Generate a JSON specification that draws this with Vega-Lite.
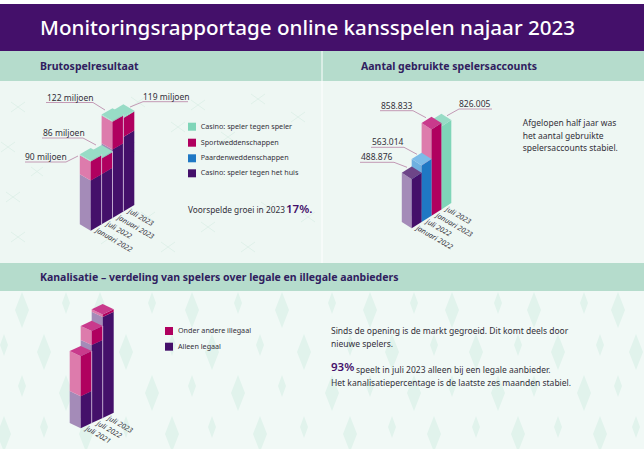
{
"$schema":"https://vega.github.io/schema/vega-lite/v6.json",
"width":644,"height":449,"padding":0,"autosize":{"type":"fit","contains":"padding"},"background":"#ffffff",
"config":{"view":{"stroke":null},"axis":{"disable":true},"legend":{"disable":true},
"text":{"font":"Noto Sans","align":"left","baseline":"middle","color":"#33303a","fontSize":8},
"rule":{"color":"#bd8fae","strokeWidth":0.9}},
"params":[{"name":"geom","value":{
"bruto":{"fx":90.7,"fy":230.7,"w":10.9,"h":6.4,"k":0.843,"b":7},
"accounts":{"fx":411.7,"fy":228.3,"w":9.9,"h":6.3,"k":0.0001005,"b":0},
"kanaal":{"fx":80.7,"fy":428.3,"w":11,"h":5.2,"k":1,"b":0}}}],
"data":{"values":[{}]},
"datasets":{"bars":[
{"chart":"bruto","i":3,"period":"juli 2023","o":0,"series":"Casino: speler tegen het huis","value":95.5},
{"chart":"bruto","i":3,"period":"juli 2023","o":1,"series":"Sportweddenschappen","value":22.5},
{"chart":"bruto","i":3,"period":"juli 2023","o":2,"series":"Casino: speler tegen speler","value":1},
{"chart":"bruto","i":2,"period":"januari 2023","o":0,"series":"Casino: speler tegen het huis","value":88},
{"chart":"bruto","i":2,"period":"januari 2023","o":1,"series":"Sportweddenschappen","value":33},
{"chart":"bruto","i":2,"period":"januari 2023","o":2,"series":"Casino: speler tegen speler","value":1},
{"chart":"bruto","i":1,"period":"juli 2022","o":0,"series":"Casino: speler tegen het huis","value":66.4},
{"chart":"bruto","i":1,"period":"juli 2022","o":1,"series":"Sportweddenschappen","value":18.6},
{"chart":"bruto","i":1,"period":"juli 2022","o":2,"series":"Casino: speler tegen speler","value":1},
{"chart":"bruto","i":0,"period":"januari 2022","o":0,"series":"Casino: speler tegen het huis","value":66.5},
{"chart":"bruto","i":0,"period":"januari 2022","o":1,"series":"Sportweddenschappen","value":22.5},
{"chart":"bruto","i":0,"period":"januari 2022","o":2,"series":"Casino: speler tegen speler","value":1},
{"chart":"accounts","i":3,"period":"juli 2023","o":0,"series":"Casino: speler tegen speler","value":826005},
{"chart":"accounts","i":2,"period":"januari 2023","o":0,"series":"Sportweddenschappen","value":858833},
{"chart":"accounts","i":1,"period":"juli 2022","o":0,"series":"Paardenweddenschappen","value":563014},
{"chart":"accounts","i":0,"period":"januari 2022","o":0,"series":"Casino: speler tegen het huis","value":488876},
{"chart":"kanaal","i":2,"period":"juli 2023","o":0,"series":"Alleen legaal","value":101},
{"chart":"kanaal","i":2,"period":"juli 2023","o":1,"series":"Onder andere illegaal","value":2.5},
{"chart":"kanaal","i":1,"period":"juli 2022","o":0,"series":"Alleen legaal","value":78},
{"chart":"kanaal","i":1,"period":"juli 2022","o":1,"series":"Onder andere illegaal","value":14},
{"chart":"kanaal","i":0,"period":"juli 2021","o":0,"series":"Alleen legaal","value":32},
{"chart":"kanaal","i":0,"period":"juli 2021","o":1,"series":"Onder andere illegaal","value":40}
]},
"layer":[
{"mark":{"type":"rect","color":"#44106a"},"encoding":{"x":{"datum":0,"scale":{"domain":[0,644],"nice":false,"zero":false}},"x2":{"datum":644},"y":{"datum":4,"scale":{"domain":[449,0],"nice":false,"zero":false}},"y2":{"datum":51}}},
{"mark":{"type":"rect","color":"#eef7f3"},"encoding":{"x":{"datum":0},"x2":{"datum":644},"y":{"datum":80},"y2":{"datum":263}}},
{"mark":{"type":"rect","color":"#f1f9f6"},"encoding":{"x":{"datum":0},"x2":{"datum":644},"y":{"datum":291},"y2":{"datum":449}}},
{"mark":{"type":"rect","color":"#b5dccc"},"encoding":{"x":{"datum":0},"x2":{"datum":644},"y":{"datum":51},"y2":{"datum":81}}},
{"mark":{"type":"rect","color":"#b5dccc"},"encoding":{"x":{"datum":0},"x2":{"datum":644},"y":{"datum":263},"y2":{"datum":291}}},
{"mark":{"type":"rule","color":"#ffffff","strokeWidth":1},"encoding":{"x":{"datum":322},"y":{"datum":51},"y2":{"datum":263}}},
{"mark":{"type":"point","clip":true,"filled":false,"size":4,"stroke":"#deefe8","strokeWidth":0.9,"opacity":1,"shape":"M-150-70l14 10m0-10l-14 10M-110-78l12 9m0-9l-12 9M-30-75l14 10m0-10l-14 10M30-72l14 10m0-10l-14 10M90-78l14 10m0-10l-14 10M130-60l14 10m0-10l-14 10M-160-30l14 10m0-10l-14 10M-130-5l12 9m0-9l-12 9M-40-30l14 10m0-10l-14 10M10-50l14 10m0-10l-14 10M60-40l14 10m0-10l-14 10M-155 20l14 10m0-10l-14 10M-80 30l12 9m0-9l-12 9M-20 40l14 10m0-10l-14 10M40 50l14 10m0-10l-14 10M100 30l14 10m0-10l-14 10M140 40l14 10m0-10l-14 10M-150 60l14 10m0-10l-14 10M-60 62l14 10m0-10l-14 10M0 70l14 10m0-10l-14 10M80 70l14 10m0-10l-14 10"},"encoding":{"x":{"datum":161},"y":{"datum":172}}},
{"mark":{"type":"point","clip":true,"filled":true,"size":4,"fill":"#e1f3ec","opacity":1,"shape":"M-300-78l7 18-7 18-7-18zM-256-78l4 11-4 11-4-11zM-222-78l7 18-7 18-7-18zM-170-78l4 11-4 11-4-11zM-130-78l7 18-7 18-7-18zM-84-78l4 11-4 11-4-11zM-40-78l7 18-7 18-7-18zM10-78l4 11-4 11-4-11zM48-78l7 18-7 18-7-18zM92-78l4 11-4 11-4-11zM130-78l7 18-7 18-7-18zM176-78l4 11-4 11-4-11zM212-78l7 18-7 18-7-18zM262-78l4 11-4 11-4-11zM296-78l7 18-7 18-7-18zM-318-36l4 11-4 11-4-11zM-278-36l7 18-7 18-7-18zM-236-36l4 11-4 11-4-11zM-196-36l7 18-7 18-7-18zM-150-36l4 11-4 11-4-11zM-110-36l7 18-7 18-7-18zM-62-36l4 11-4 11-4-11zM-18-36l7 18-7 18-7-18zM28-36l4 11-4 11-4-11zM70-36l7 18-7 18-7-18zM112-36l4 11-4 11-4-11zM154-36l7 18-7 18-7-18zM196-36l4 11-4 11-4-11zM236-36l7 18-7 18-7-18zM278-36l4 11-4 11-4-11zM314-36l7 18-7 18-7-18zM-300 5l4 11-4 11-4-11zM-256 5l7 18-7 18-7-18zM-222 5l4 11-4 11-4-11zM-170 5l7 18-7 18-7-18zM-130 5l4 11-4 11-4-11zM-84 5l7 18-7 18-7-18zM-40 5l4 11-4 11-4-11zM10 5l7 18-7 18-7-18zM48 5l4 11-4 11-4-11zM92 5l7 18-7 18-7-18zM130 5l4 11-4 11-4-11zM176 5l7 18-7 18-7-18zM212 5l4 11-4 11-4-11zM262 5l7 18-7 18-7-18zM296 5l4 11-4 11-4-11zM-318 46l7 18-7 18-7-18zM-278 46l4 11-4 11-4-11zM-236 46l7 18-7 18-7-18zM-196 46l4 11-4 11-4-11zM-150 46l7 18-7 18-7-18zM-110 46l4 11-4 11-4-11zM-62 46l7 18-7 18-7-18zM-18 46l4 11-4 11-4-11zM28 46l7 18-7 18-7-18zM70 46l4 11-4 11-4-11zM112 46l7 18-7 18-7-18zM154 46l4 11-4 11-4-11zM196 46l7 18-7 18-7-18zM236 46l4 11-4 11-4-11zM278 46l7 18-7 18-7-18zM314 46l4 11-4 11-4-11z"},"encoding":{"x":{"datum":322},"y":{"datum":370}}},
{"data":{"name":"bars"},
"transform":[
{"stack":"value","groupby":["chart","i"],"sort":[{"field":"o","order":"ascending"}],"as":["v0","v1"]},
{"joinaggregate":[{"op":"max","field":"v1","as":"total"}],"groupby":["chart","i"]},
{"calculate":"datum.v1===datum.total?['L0','L1','R0','R1','T0','T1','T2']:['L0','L1','R0','R1']","as":"corner"},
{"flatten":["corner"]},
{"calculate":"substring(datum.corner,0,1)","as":"face"},
{"calculate":"datum.chart+'_'+datum.i+'_'+datum.o+'_'+datum.face","as":"fid"},
{"calculate":"datum.series+'|'+datum.face","as":"key"},
{"calculate":"(datum.corner==='L1'||datum.corner==='R0'||datum.corner==='T1')?0:((datum.corner==='L0'||datum.corner==='T0')?-1:1)","as":"u"},
{"calculate":"geom[datum.chart].fx+(datum.i+datum.u)*geom[datum.chart].w","as":"px"},
{"calculate":"geom[datum.chart].fy-(datum.i+abs(datum.u))*geom[datum.chart].h","as":"gy"},
{"calculate":"(max(datum.v0,geom[datum.chart].b)-geom[datum.chart].b)*geom[datum.chart].k","as":"l0"},
{"calculate":"(max(datum.v1,geom[datum.chart].b)-geom[datum.chart].b)*geom[datum.chart].k","as":"l1"},
{"calculate":"datum.face==='T'?datum.gy-datum.l1-(datum.corner==='T1'?2*geom[datum.chart].h:0):datum.gy-datum.l1","as":"py"},
{"calculate":"datum.face==='T'?datum.gy-datum.l1:datum.gy-datum.l0","as":"py2"}
],
"mark":{"type":"area","orient":"vertical","interpolate":"linear","opacity":1},
"encoding":{
"x":{"field":"px","type":"quantitative"},
"y":{"field":"py","type":"quantitative","stack":null},
"y2":{"field":"py2"},
"detail":{"field":"fid"},
"color":{"field":"key","type":"nominal","scale":{
"domain":["Casino: speler tegen het huis|R","Casino: speler tegen het huis|L","Casino: speler tegen het huis|T","Alleen legaal|R","Alleen legaal|L","Alleen legaal|T","Sportweddenschappen|R","Sportweddenschappen|L","Sportweddenschappen|T","Onder andere illegaal|R","Onder andere illegaal|L","Onder andere illegaal|T","Paardenweddenschappen|R","Paardenweddenschappen|L","Paardenweddenschappen|T","Casino: speler tegen speler|R","Casino: speler tegen speler|L","Casino: speler tegen speler|T"],
"range":["#44106a","#a48bb8","#6d4588","#44106a","#a48bb8","#6d4588","#b0005f","#dd7bac","#c93a8c","#b0005f","#dd7bac","#c93a8c","#1f78c4","#6fb0e0","#7cbbe8","#7fd5b8","#a5e2cf","#98dcc6"]}}
}},
{"data":{"name":"bars"},
"transform":[
{"aggregate":[{"op":"sum","field":"value","as":"total"}],"groupby":["chart","i"]},
{"filter":"datum.chart!=='accounts'&&datum.i<(datum.chart==='bruto'?3:2)"},
{"calculate":"geom[datum.chart].fx+(datum.i+1)*geom[datum.chart].w","as":"sx"},
{"calculate":"geom[datum.chart].fy-(datum.i+1)*geom[datum.chart].h","as":"sy"},
{"calculate":"datum.sy-(datum.total-geom[datum.chart].b)*geom[datum.chart].k","as":"st"}
],
"mark":{"type":"rule","color":"#e6d9ee","strokeWidth":0.7},
"encoding":{"x":{"field":"sx","type":"quantitative"},"y":{"field":"sy","type":"quantitative"},"y2":{"field":"st"}}},
{"data":{"name":"bars"},
"transform":[
{"aggregate":[{"op":"count","as":"n"}],"groupby":["chart","i","period"]},
{"calculate":"geom[datum.chart].fx+(datum.i+0.5)*geom[datum.chart].w","as":"lx"},
{"calculate":"geom[datum.chart].fy-(datum.i+0.5)*geom[datum.chart].h+2.5","as":"ly"}
],
"mark":{"type":"text","angle":30,"fontSize":7.2,"fontStyle":"italic"},
"encoding":{"x":{"field":"lx","type":"quantitative"},"y":{"field":"ly","type":"quantitative"},"text":{"field":"period"}}},
{"mark":{"type":"text","text":"Monitoringsrapportage online kansspelen najaar 2023","color":"#ffffff","fontSize":20.6,"fontWeight":500},"encoding":{"x":{"datum":40},"y":{"datum":29}}},
{"mark":{"type":"text","text":"Brutospelresultaat","color":"#30205f","fontSize":10.5,"fontWeight":700},"encoding":{"x":{"datum":40},"y":{"datum":67}}},
{"mark":{"type":"text","text":"Aantal gebruikte spelersaccounts","color":"#30205f","fontSize":10.5,"fontWeight":700},"encoding":{"x":{"datum":361},"y":{"datum":67}}},
{"mark":{"type":"text","text":"Kanalisatie – verdeling van spelers over legale en illegale aanbieders","color":"#30205f","fontSize":10.5,"fontWeight":700},"encoding":{"x":{"datum":40},"y":{"datum":278}}},
{"mark":{"type":"rule"},"encoding":{"x":{"datum":46},"x2":{"datum":93},"y":{"datum":102.5},"y2":{"datum":102.5}}},
{"mark":{"type":"rule"},"encoding":{"x":{"datum":93},"x2":{"datum":105},"y":{"datum":102.5},"y2":{"datum":110}}},
{"mark":{"type":"text","text":"122 miljoen","fontSize":8.5},"encoding":{"x":{"datum":47},"y":{"datum":97.5}}},
{"mark":{"type":"rule"},"encoding":{"x":{"datum":143},"x2":{"datum":188},"y":{"datum":101.7},"y2":{"datum":101.7}}},
{"mark":{"type":"rule"},"encoding":{"x":{"datum":143},"x2":{"datum":130},"y":{"datum":101.7},"y2":{"datum":107}}},
{"mark":{"type":"text","text":"119 miljoen","fontSize":8.5},"encoding":{"x":{"datum":143},"y":{"datum":96.5}}},
{"mark":{"type":"rule"},"encoding":{"x":{"datum":42},"x2":{"datum":83},"y":{"datum":138},"y2":{"datum":138}}},
{"mark":{"type":"rule"},"encoding":{"x":{"datum":83},"x2":{"datum":96},"y":{"datum":138},"y2":{"datum":145}}},
{"mark":{"type":"text","text":"86 miljoen","fontSize":8.5},"encoding":{"x":{"datum":43},"y":{"datum":133}}},
{"mark":{"type":"rule"},"encoding":{"x":{"datum":25},"x2":{"datum":66},"y":{"datum":162},"y2":{"datum":162}}},
{"mark":{"type":"rule"},"encoding":{"x":{"datum":66},"x2":{"datum":78},"y":{"datum":162},"y2":{"datum":156}}},
{"mark":{"type":"text","text":"90 miljoen","fontSize":8.5},"encoding":{"x":{"datum":25},"y":{"datum":156.5}}},
{"mark":{"type":"rule"},"encoding":{"x":{"datum":380},"x2":{"datum":413},"y":{"datum":110.7},"y2":{"datum":110.7}}},
{"mark":{"type":"rule"},"encoding":{"x":{"datum":413},"x2":{"datum":426},"y":{"datum":110.7},"y2":{"datum":117.7}}},
{"mark":{"type":"text","text":"858.833","fontSize":8.5},"encoding":{"x":{"datum":381},"y":{"datum":105.5}}},
{"mark":{"type":"rule"},"encoding":{"x":{"datum":459},"x2":{"datum":492},"y":{"datum":109},"y2":{"datum":109}}},
{"mark":{"type":"rule"},"encoding":{"x":{"datum":459},"x2":{"datum":447},"y":{"datum":109},"y2":{"datum":115.7}}},
{"mark":{"type":"text","text":"826.005","fontSize":8.5},"encoding":{"x":{"datum":459},"y":{"datum":103.5}}},
{"mark":{"type":"rule"},"encoding":{"x":{"datum":371},"x2":{"datum":404},"y":{"datum":147.3},"y2":{"datum":147.3}}},
{"mark":{"type":"rule"},"encoding":{"x":{"datum":404},"x2":{"datum":417},"y":{"datum":147.3},"y2":{"datum":154.3}}},
{"mark":{"type":"text","text":"563.014","fontSize":8.5},"encoding":{"x":{"datum":372},"y":{"datum":142}}},
{"mark":{"type":"rule"},"encoding":{"x":{"datum":360},"x2":{"datum":394},"y":{"datum":162.3},"y2":{"datum":162.3}}},
{"mark":{"type":"rule"},"encoding":{"x":{"datum":394},"x2":{"datum":407},"y":{"datum":162.3},"y2":{"datum":167.3}}},
{"mark":{"type":"text","text":"488.876","fontSize":8.5},"encoding":{"x":{"datum":361},"y":{"datum":157}}},
{"mark":{"type":"point","shape":"square","filled":true,"size":64,"opacity":1,"color":"#7fd5b8"},"encoding":{"x":{"datum":192},"y":{"datum":126.7}}},
{"mark":{"type":"point","shape":"square","filled":true,"size":64,"opacity":1,"color":"#b0005f"},"encoding":{"x":{"datum":192},"y":{"datum":142.7}}},
{"mark":{"type":"point","shape":"square","filled":true,"size":64,"opacity":1,"color":"#1f78c4"},"encoding":{"x":{"datum":192},"y":{"datum":158.3}}},
{"mark":{"type":"point","shape":"square","filled":true,"size":64,"opacity":1,"color":"#44106a"},"encoding":{"x":{"datum":192},"y":{"datum":173.3}}},
{"mark":{"type":"text","text":"Casino: speler tegen speler","fontSize":7.2},"encoding":{"x":{"datum":200.7},"y":{"datum":126.7}}},
{"mark":{"type":"text","text":"Sportweddenschappen","fontSize":7.2},"encoding":{"x":{"datum":200.7},"y":{"datum":142.7}}},
{"mark":{"type":"text","text":"Paardenweddenschappen","fontSize":7.2},"encoding":{"x":{"datum":200.7},"y":{"datum":158.3}}},
{"mark":{"type":"text","text":"Casino: speler tegen het huis","fontSize":7.2},"encoding":{"x":{"datum":200.7},"y":{"datum":173.3}}},
{"mark":{"type":"text","text":"Voorspelde groei in 2023","fontSize":8.3},"encoding":{"x":{"datum":188},"y":{"datum":211}}},
{"mark":{"type":"text","text":"17%.","fontSize":11.5,"fontWeight":600,"color":"#44106a"},"encoding":{"x":{"datum":286},"y":{"datum":210}}},
{"mark":{"type":"text","text":"Afgelopen half jaar was","fontSize":8.5},"encoding":{"x":{"datum":522.7},"y":{"datum":122.7}}},
{"mark":{"type":"text","text":"het aantal gebruikte","fontSize":8.5},"encoding":{"x":{"datum":522.7},"y":{"datum":135.5}}},
{"mark":{"type":"text","text":"spelersaccounts stabiel.","fontSize":8.5},"encoding":{"x":{"datum":522.7},"y":{"datum":147.7}}},
{"mark":{"type":"point","shape":"square","filled":true,"size":64,"opacity":1,"color":"#b0005f"},"encoding":{"x":{"datum":169},"y":{"datum":331}}},
{"mark":{"type":"point","shape":"square","filled":true,"size":64,"opacity":1,"color":"#44106a"},"encoding":{"x":{"datum":169},"y":{"datum":346.7}}},
{"mark":{"type":"text","text":"Onder andere illegaal","fontSize":7.2},"encoding":{"x":{"datum":178},"y":{"datum":331}}},
{"mark":{"type":"text","text":"Alleen legaal","fontSize":7.2},"encoding":{"x":{"datum":178},"y":{"datum":346.7}}},
{"mark":{"type":"text","text":"Sinds de opening is de markt gegroeid. Dit komt deels door","fontSize":8.5},"encoding":{"x":{"datum":331},"y":{"datum":330.5}}},
{"mark":{"type":"text","text":"nieuwe spelers.","fontSize":8.5},"encoding":{"x":{"datum":331},"y":{"datum":344}}},
{"mark":{"type":"text","text":"93%","fontSize":11.5,"fontWeight":600,"color":"#44106a"},"encoding":{"x":{"datum":331},"y":{"datum":368}}},
{"mark":{"type":"text","text":"speelt in juli 2023 alleen bij een legale aanbieder.","fontSize":8.5},"encoding":{"x":{"datum":356},"y":{"datum":369.5}}},
{"mark":{"type":"text","text":"Het kanalisatiepercentage is de laatste zes maanden stabiel.","fontSize":8.5},"encoding":{"x":{"datum":331},"y":{"datum":382.5}}}
]
}
